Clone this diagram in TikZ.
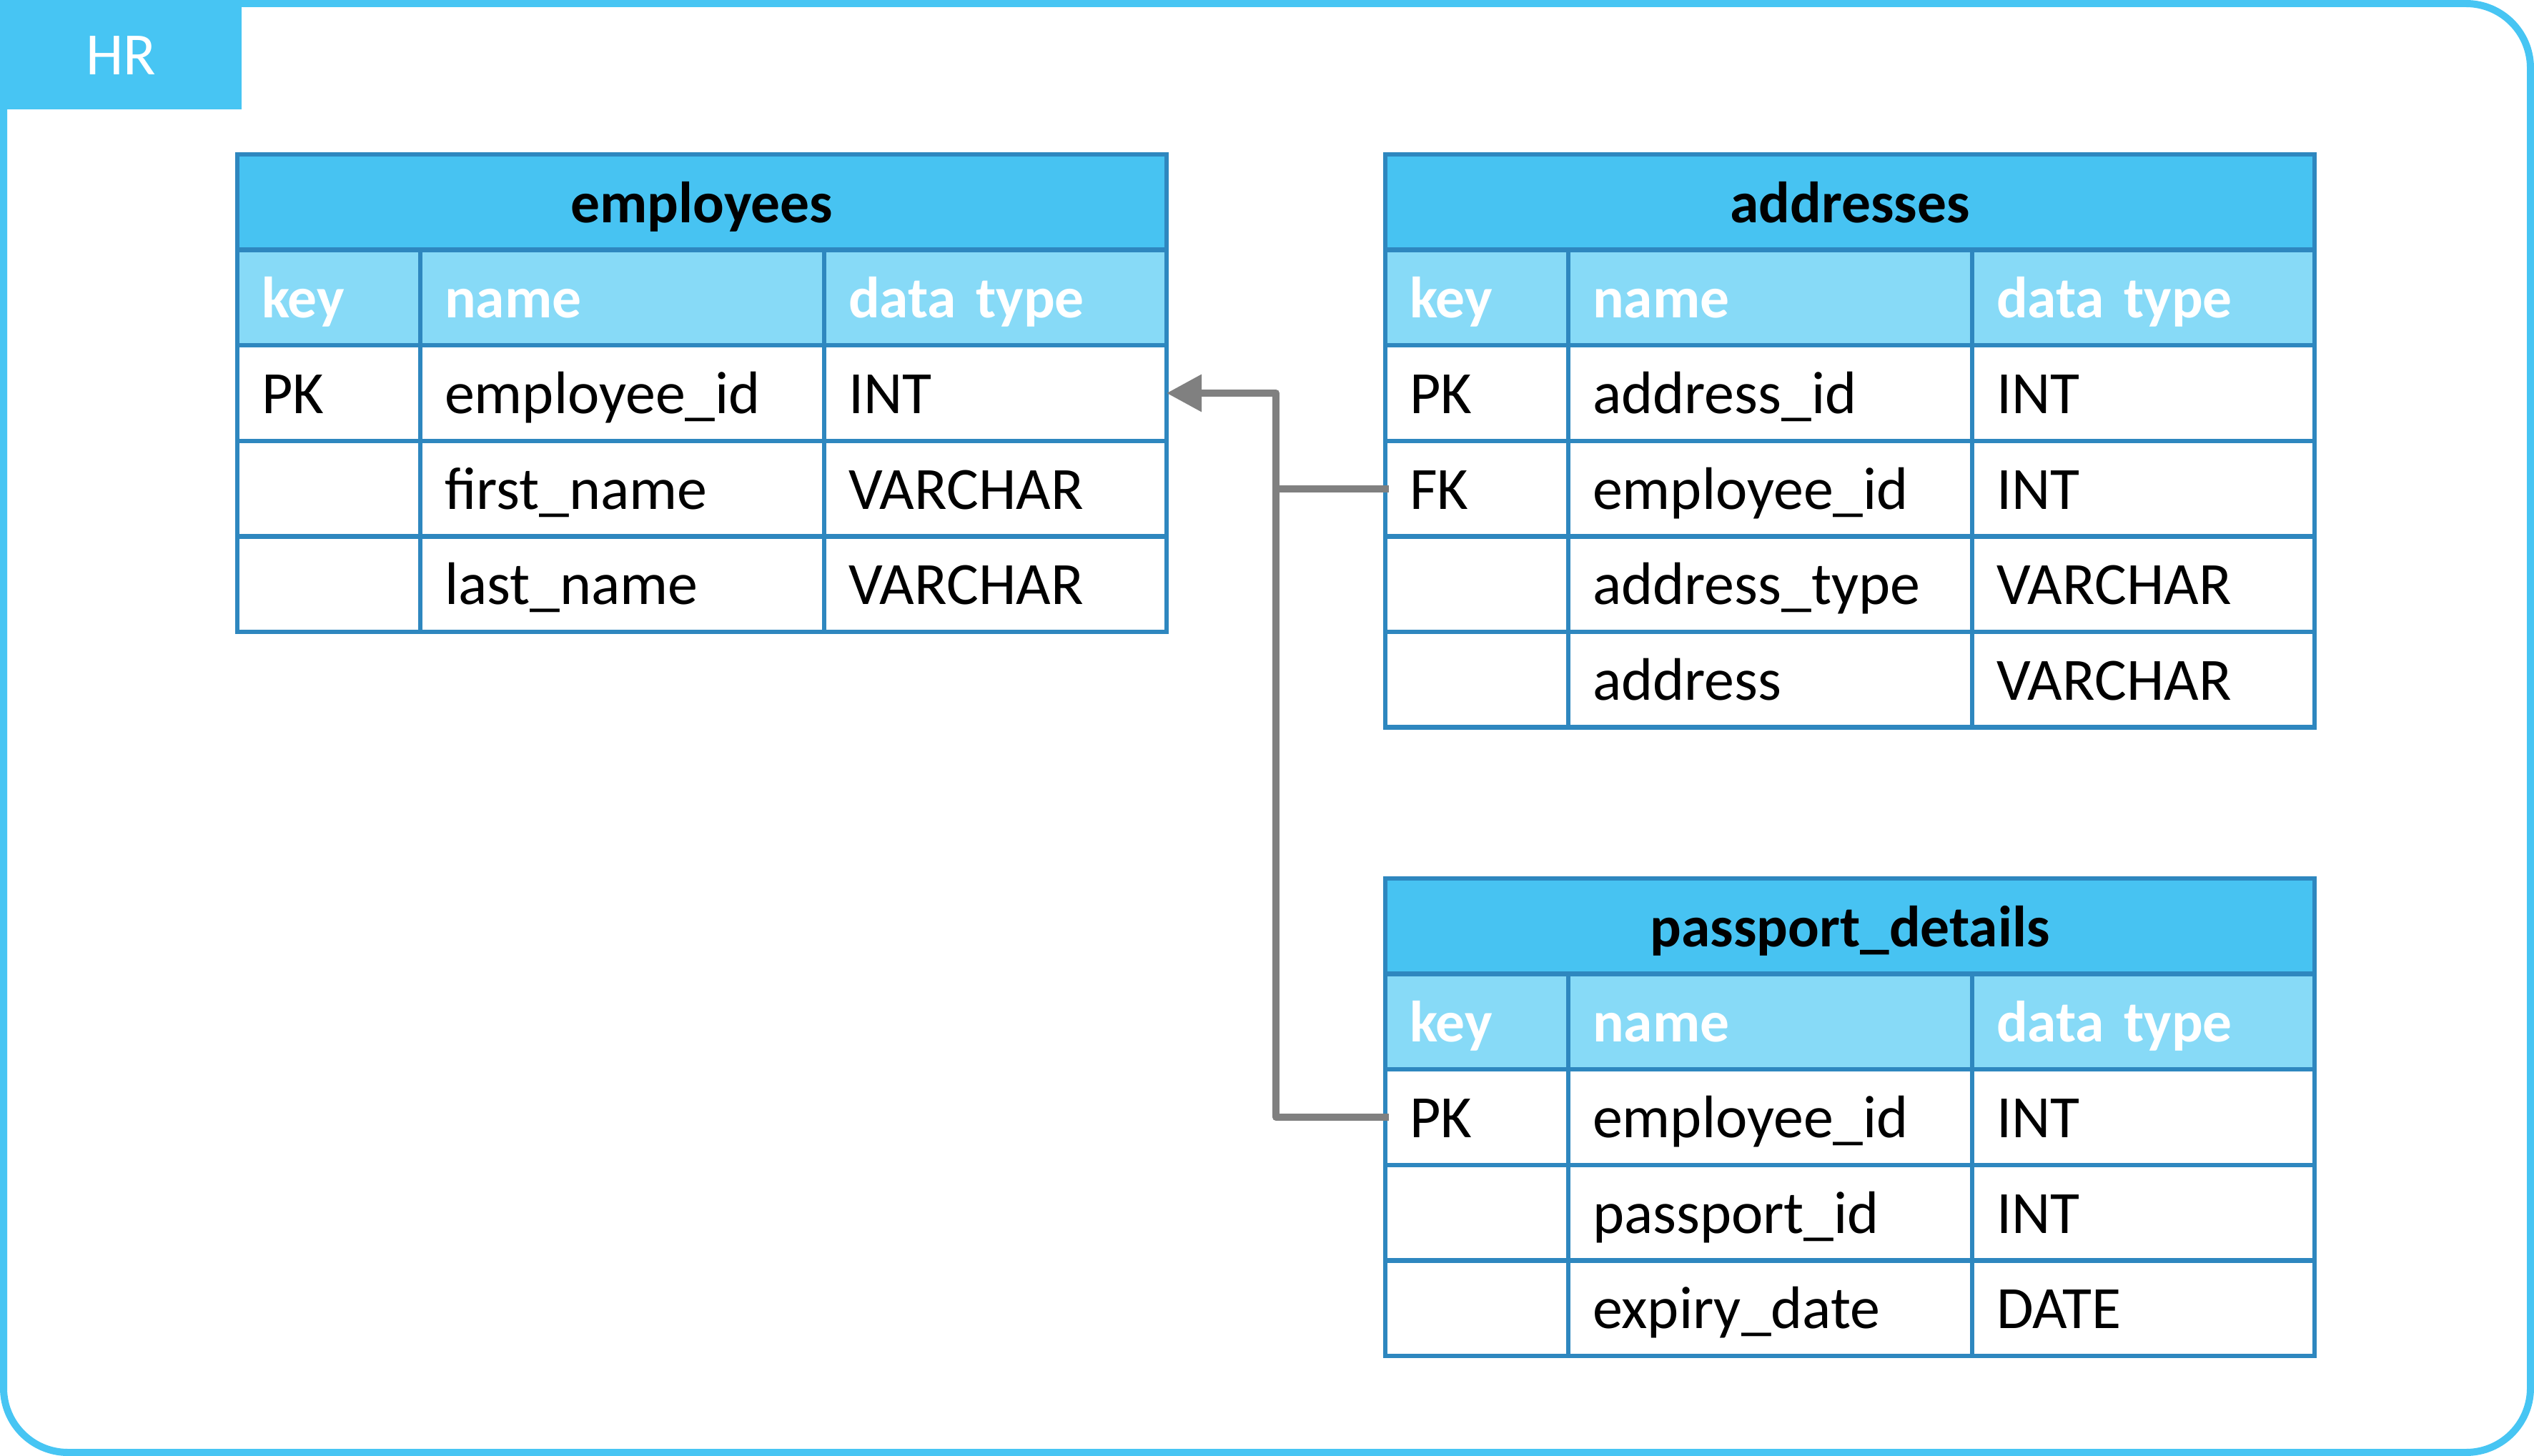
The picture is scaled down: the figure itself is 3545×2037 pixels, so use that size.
\documentclass[tikz,border=0pt]{standalone}
\usepackage{fontspec}
\setmainfont{Carlito}
\usetikzlibrary{arrows.meta}
\definecolor{frameblue}{RGB}{71,197,243}
\definecolor{titleblue}{RGB}{71,195,242}
\definecolor{headblue}{RGB}{135,218,247}
\definecolor{lineblue}{RGB}{46,135,191}
\definecolor{conngray}{RGB}{128,128,128}
\newcommand\bodyfont{\fontsize{16.8}{20}\selectfont}
\newcommand\boldfont{\fontsize{16.3}{20}\selectfont\bfseries}
% #1 prefix, #2 x, #3 y, #4 style, #5 key, #6 name, #7 type
\newcommand\tblrow[7]{%
  \node[cellbox,keycol,#4]  (#1-k) at (#2,#3) {#5};
  \node[cellbox,namecol,#4] (#1-n) at (#2+256,#3) {#6};
  \node[cellbox,typecol,#4] (#1-t) at (#2+821,#3) {#7};
}
\begin{document}
\begin{tikzpicture}[x=0.2pt,y=-0.2pt,
  cellbox/.style={draw=lineblue, line width=1.3pt, anchor=north west, outer sep=0pt,
    minimum height=26.72pt, inner xsep=6.8pt, inner ysep=0pt,
    text height=11.4pt, text depth=0pt, align=left, font=\bodyfont, fill=white},
  keycol/.style={text width=37.6pt},
  namecol/.style={text width=99.4pt},
  typecol/.style={text width=82.2pt},
  titlecell/.style={cellbox, text width=246.4pt, align=center, fill=titleblue, font=\boldfont},
  headcell/.style={fill=headblue, text=white, font=\boldfont},
  bodycell/.style={fill=white, text=black},
  frame/.style={draw=frameblue, line width=2pt, rounded corners=18pt},
  conn/.style={draw=conngray, line width=2pt, line join=round},
]
\useasboundingbox (0,0) rectangle (3545,2037);
% outer frame
\draw[frame] (5,100) -- (5,2032) -- (3540,2032) -- (3540,5) -- (0,5);
\node[fill=frameblue, anchor=north west, outer sep=0pt, minimum width=67.6pt, minimum height=30.6pt,
  inner sep=0pt, text height=11.2pt, text depth=0pt, text=white, font=\bodyfont] (tab) at (0,0) {HR};

% employees
\node[titlecell] (emp-title) at (332,216) {employees};
\tblrow{emp-h}{332}{349.6}{headcell}{key}{name}{data type}
\tblrow{emp-r1}{332}{483.2}{bodycell}{PK}{employee\_id}{INT}
\tblrow{emp-r2}{332}{616.8}{bodycell}{}{first\_name}{VARCHAR}
\tblrow{emp-r3}{332}{750.4}{bodycell}{}{last\_name}{VARCHAR}

% addresses
\node[titlecell] (adr-title) at (1938,216) {addresses};
\tblrow{adr-h}{1938}{349.6}{headcell}{key}{name}{data type}
\tblrow{adr-r1}{1938}{483.2}{bodycell}{PK}{address\_id}{INT}
\tblrow{adr-r2}{1938}{616.8}{bodycell}{FK}{employee\_id}{INT}
\tblrow{adr-r3}{1938}{750.4}{bodycell}{}{address\_type}{VARCHAR}
\tblrow{adr-r4}{1938}{884}{bodycell}{}{address}{VARCHAR}

% passport_details
\node[titlecell] (pp-title) at (1938,1229) {passport\_details};
\tblrow{pp-h}{1938}{1362.6}{headcell}{key}{name}{data type}
\tblrow{pp-r1}{1938}{1496.2}{bodycell}{PK}{employee\_id}{INT}
\tblrow{pp-r2}{1938}{1629.8}{bodycell}{}{passport\_id}{INT}
\tblrow{pp-r3}{1938}{1763.4}{bodycell}{}{expiry\_date}{DATE}

% connectors
\path (emp-r1-t.east) ++ (153,0) coordinate (jx);
\draw[conn, -{Triangle[length=9.8pt,width=10pt]}] ([xshift=1pt]adr-r2-k.west) -| (jx) -- (emp-r1-t.east);
\draw[conn] ([xshift=1pt]pp-r1-k.west) -| (jx);
\end{tikzpicture}
\end{document}
